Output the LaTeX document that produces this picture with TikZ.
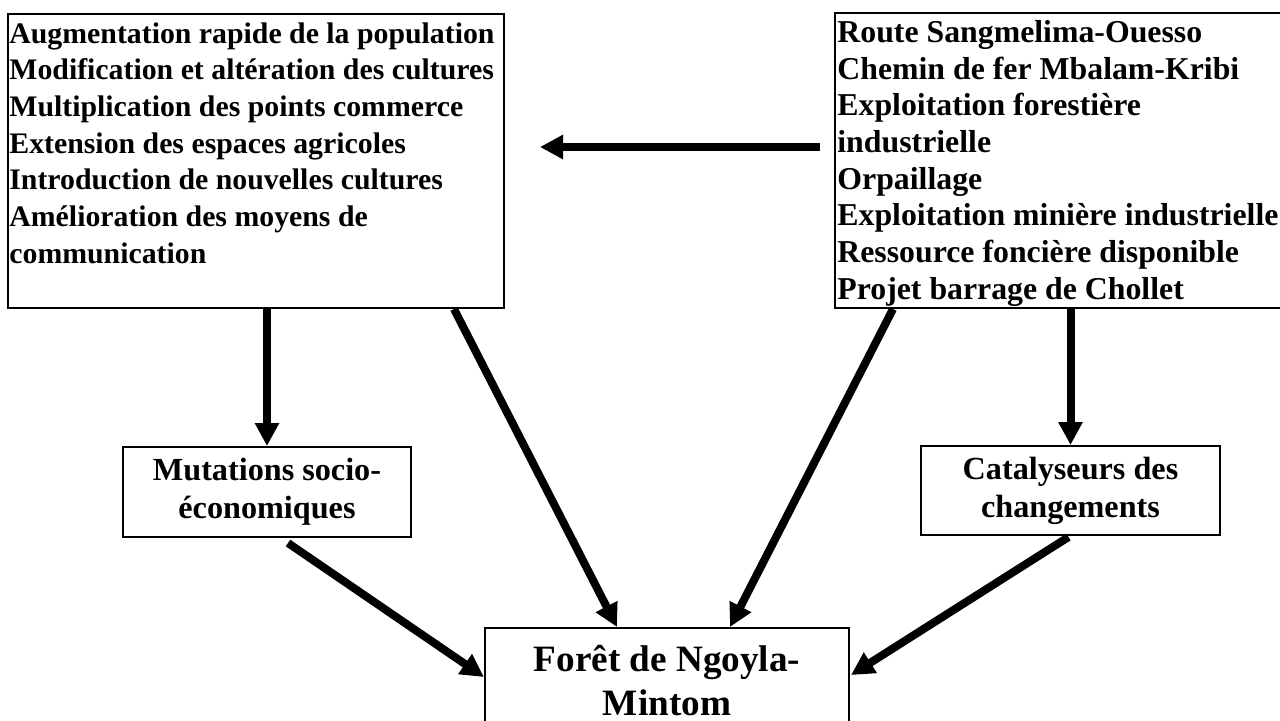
\documentclass[tikz,border=0pt]{standalone}
\usepackage{fontspec}
\setmainfont{Liberation Serif}
\usetikzlibrary{arrows.meta,calc}
\begin{document}
\begin{tikzpicture}[x=0.5pt,y=-0.5pt,
  box/.style={draw, line width=1pt, inner sep=0pt},
  listtext/.style={inner sep=0pt, align=left, anchor=north west},
  midtext/.style={align=center, font=\bfseries\fontsize{16.1pt}{19pt}\selectfont},
  bigtext/.style={align=center, font=\bfseries\fontsize{18.6pt}{22pt}\selectfont},
  arr/.style={line width=4pt, -{Triangle[length=11.5pt,width=11.5pt]}}]
\useasboundingbox (0,0) rectangle (1280,720);

% boxes
\node[box, anchor=north west, minimum width=248pt, minimum height=147pt] (A) at (7,13) {};
\node[listtext, font=\bfseries\fontsize{14.9pt}{18.35pt}\selectfont] (At) at (9,22) {Augmentation rapide de la population\\
Modification et altération des cultures\\
Multiplication des points commerce\\
Extension des espaces agricoles\\
Introduction de nouvelles cultures\\
Amélioration des moyens de\\
communication};

\node[box, anchor=north west, minimum width=228pt, minimum height=147.5pt] (B) at (834,12) {};
\node[listtext, font=\bfseries\fontsize{15.9pt}{18.35pt}\selectfont] (Bt) at (837,20) {Route Sangmelima-Ouesso\\
Chemin de fer Mbalam-Kribi\\
Exploitation forestière\\
industrielle\\
Orpaillage\\
Exploitation minière industrielle\\
Ressource foncière disponible\\
Projet barrage de Chollet};

\node[box, midtext, minimum width=144pt, minimum height=45pt] (M) at (267,492) {Mutations socio-\\économiques};
\node[box, midtext, minimum width=149.5pt, minimum height=44.5pt] (C) at (1070.5,490.5) {Catalyseurs des\\changements};
\node[box, bigtext, minimum width=182pt, minimum height=53pt] (F) at (667,681) {Forêt de Ngoyla-\\Mintom};

% connectors
\coordinate (h1) at (820,147);
\coordinate (h2) at (540,147);
\draw[arr] (h1) -- (h2);
\draw[arr] (M.north |- A.south) -- (M.north);
\draw[arr] (C.north |- B.south) -- (C.north);
\draw[arr] ($(A.south east)+(-51,0)$) -- ($(F.north)+(-50,0)$);
\draw[arr] ($(B.south west)+(59,0)$) -- ($(F.north)+(63,0)$);
\draw[arr] ($(M.south)+(21,5)$) -- ($(F.west)+(0,-4)$);
\draw[arr] ($(C.south)+(-2,1)$) -- ($(F.east)+(1,-6)$);
\end{tikzpicture}
\end{document}
